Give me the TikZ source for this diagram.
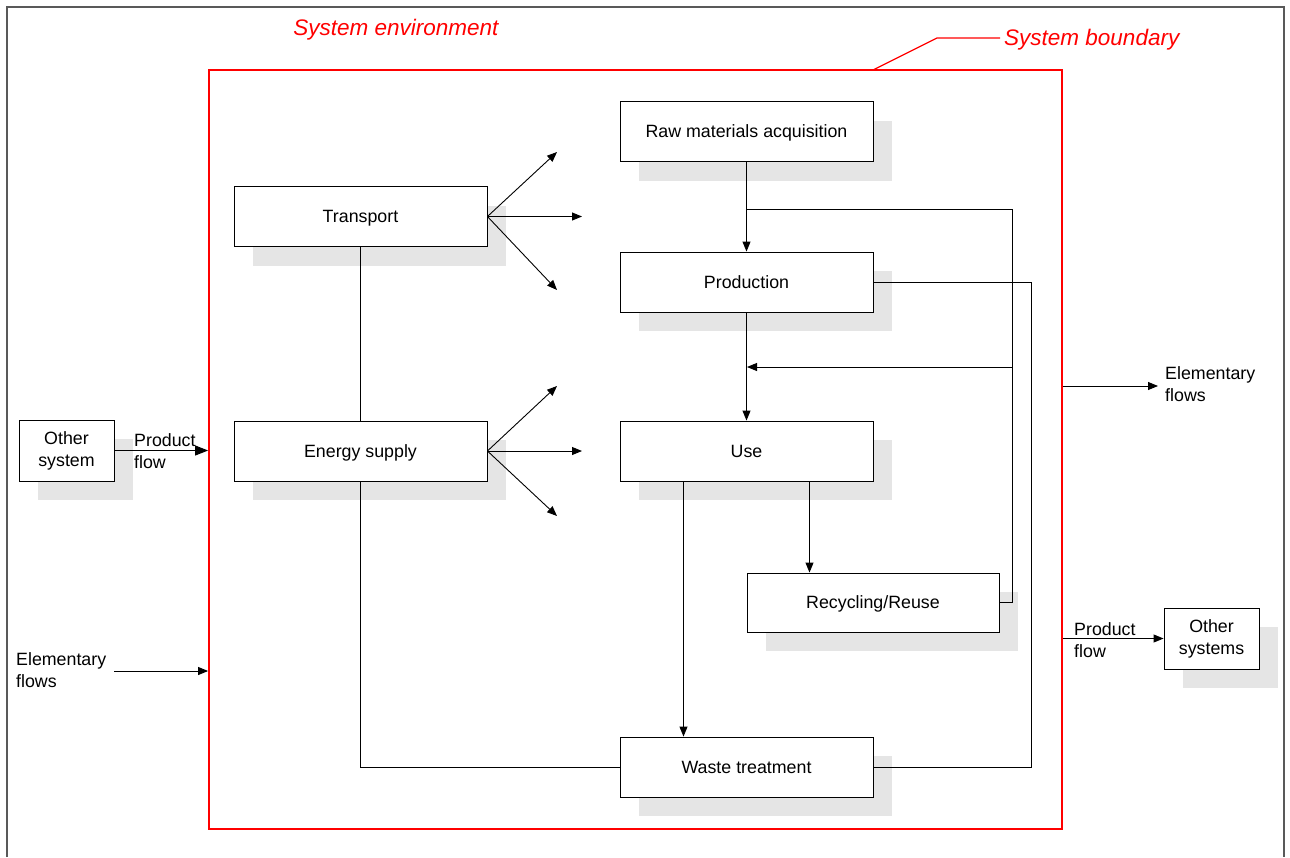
\documentclass[tikz,border=0pt]{standalone}
\usepackage{fontspec}
\setmainfont{Liberation Sans}
\usetikzlibrary{arrows.meta,shadows,calc}
\definecolor{shadegray}{HTML}{E5E5E5}
\definecolor{bred}{HTML}{FF0000}
\begin{document}
\begin{tikzpicture}[x=1pt,y=-1pt,
  every node/.style={font=\fontsize{17.8}{22}\selectfont},
  box/.style={draw=black, line width=0.9pt, fill=white, minimum width=253pt, minimum height=60pt, inner sep=0pt,
    text height=12.8pt, text depth=0pt,
    general shadow={fill=shadegray, shadow xshift=19pt, shadow yshift=-19pt}},
  sbox/.style={draw=black, line width=0.9pt, fill=white, inner sep=0pt, minimum width=95pt, minimum height=61pt, align=center,
    general shadow={fill=shadegray, shadow xshift=19pt, shadow yshift=-19pt}},
  conn/.style={draw=black, line width=0.9pt},
  arr/.style={conn, -{Triangle[length=10pt,width=8pt]}},
  lbl/.style={align=left, inner sep=0pt, anchor=north west},
  redlbl/.style={text=bred, font=\fontsize{22.5}{26}\selectfont\itshape, inner sep=0pt}
]
\useasboundingbox (0,0) rectangle (1290,857);
% outer frame
\draw[line width=1.5pt, draw=black!65] (7,857) -- (7,7) -- (1284,7) -- (1284,857);
% system boundary
\node[draw=bred, line width=1.8pt, minimum width=853pt, minimum height=759pt, inner sep=0pt] (sys) at (635.5,449.5) {};
\node[redlbl] (env) at (396,30) {System environment};
\node[redlbl, anchor=west] (bnd) at (1004,40) {System boundary};
\coordinate (bk0) at (873,70);
\coordinate (bk1) at (937,38);
\coordinate (bk2) at (1000,38);
\draw[draw=bred, line width=1.2pt] (bk0) -- (bk1) -- (bk2);

% boxes
\node[box] (raw) at (746.5,131.5) {Raw materials acquisition};
\node[box] (tra) at (360.5,216.5) {Transport};
\node[box] (pro) at (746.5,282) {Production};
\node[box] (ene) at (360.5,451) {Energy supply};
\node[box] (use) at (746.5,451) {Use};
\node[box, minimum width=252pt, minimum height=59pt] (rec) at (873,602.5) {Recycling/Reuse};
\node[box] (was) at (746.5,767) {Waste treatment};
\node[sbox] (os1) at (66.5,450.5) {Other\\system};
\node[sbox] (os2) at (1211.5,638.5) {Other\\systems};

% main flow
\draw[arr] (raw.south) -- (pro.north);
\draw[arr] (pro.south) -- (use.north);
\coordinate (b1) at (747,209);
\coordinate (b2) at (1012,209);
\coordinate (b3) at (1012,367);
\coordinate (b4) at (747,367);
\draw[conn] (b1) -- (b2) -- (b3) |- (rec.east);
\draw[arr] (b3) -- (b4);
\coordinate (p1) at (1031,282);
\draw[conn] (pro.east) -- (p1) |- (was.east);
\draw[arr] ($(use.south)+(-63,0)$) -- ($(was.north)+(-63,0)$);
\draw[arr] ($(use.south)+(63,0)$) -- (rec.north -| {$(use.south)+(63,0)$});
\draw[conn] (tra.south) -- (ene.north);
\draw[conn] (ene.south) |- (was.west);

% fans
\coordinate (t1) at (557,152);
\coordinate (t2) at (582,216.5);
\coordinate (t3) at (557,290);
\coordinate (e1) at (557,386);
\coordinate (e2) at (582,451);
\coordinate (e3) at (557,516);
\foreach \c in {t1,t2,t3} \draw[arr] (tra.east) -- (\c);
\foreach \c in {e1,e2,e3} \draw[arr] (ene.east) -- (\c);

% external flows
\draw[conn, -{Triangle[length=13pt,width=10pt]}] (os1.east) -- (sys.west |- os1.east);
\node[lbl] (pfl) at (134,433) {Product\\flow};
\node[lbl] (efl) at (16,652) {Elementary\\flows};
\coordinate (ef0) at (114,671);
\draw[arr] (ef0) -- (sys.west |- ef0);
\coordinate (er1) at (1158,386);
\draw[arr] (sys.east |- er1) -- (er1);
\node[lbl] (efr) at (1165,366) {Elementary\\flows};
\draw[arr] (sys.east |- os2.west) -- (os2.west);
\node[lbl] (pfr) at (1074,622) {Product\\flow};
\end{tikzpicture}
\end{document}
